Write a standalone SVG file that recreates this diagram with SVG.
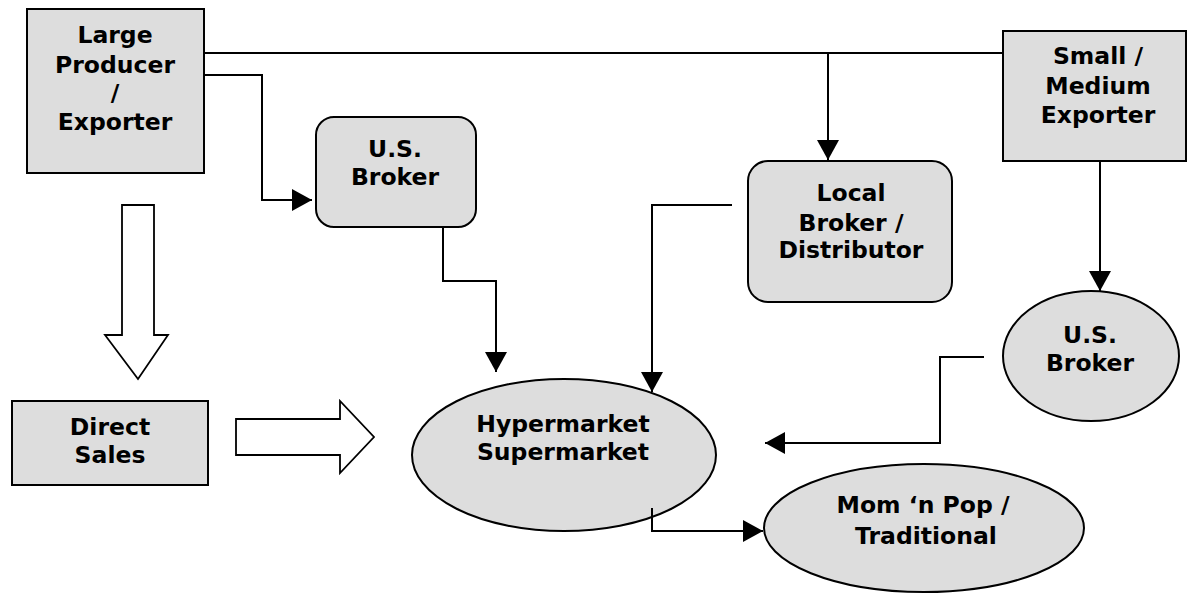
<svg xmlns="http://www.w3.org/2000/svg" width="1187" height="594" viewBox="0 0 1187 594">
<defs>
<marker id="ah" viewBox="0 0 20 22" refX="20" refY="11" markerWidth="20" markerHeight="22" orient="auto" markerUnits="userSpaceOnUse">
<path d="M0,0 L20,11 L0,22 z" fill="#000"/>
</marker>
</defs>
<style>
.node{fill:#DDDDDD;stroke:#000;stroke-width:2}
.lbl{font-family:"DejaVu Sans",Verdana,sans-serif;font-weight:bold;font-size:23.5px;fill:#000;text-anchor:middle}
.conn{fill:none;stroke:#000;stroke-width:2}
.hollow{fill:#fff;stroke:#000;stroke-width:1.8;stroke-linejoin:miter}
</style>
<rect width="1187" height="594" fill="#fff"/>
<g id="large-producer">
<rect class="node" x="27" y="9" width="177" height="164"/>
<text class="lbl" x="115" y="43">Large</text>
<text class="lbl" x="115" y="73">Producer</text>
<text class="lbl" x="115" y="101">/</text>
<text class="lbl" x="115" y="130">Exporter</text>
</g>
<g id="small-medium-exporter">
<rect class="node" x="1003" y="31" width="183" height="130"/>
<text class="lbl" x="1098" y="64">Small /</text>
<text class="lbl" x="1098" y="94">Medium</text>
<text class="lbl" x="1098" y="123">Exporter</text>
</g>
<g id="us-broker-1">
<rect class="node" x="316" y="117" width="160" height="110" rx="18" ry="18"/>
<text class="lbl" x="395" y="157">U.S.</text>
<text class="lbl" x="395" y="185">Broker</text>
</g>
<g id="local-broker">
<rect class="node" x="748" y="161" width="204" height="141" rx="20" ry="20"/>
<text class="lbl" x="851" y="201">Local</text>
<text class="lbl" x="851" y="231">Broker /</text>
<text class="lbl" x="851" y="258">Distributor</text>
</g>
<g id="us-broker-2">
<ellipse class="node" cx="1091" cy="356" rx="88" ry="65"/>
<text class="lbl" x="1090" y="343">U.S.</text>
<text class="lbl" x="1090" y="371">Broker</text>
</g>
<g id="direct-sales">
<rect class="node" x="12" y="401" width="196" height="84"/>
<text class="lbl" x="110" y="435">Direct</text>
<text class="lbl" x="110" y="463">Sales</text>
</g>
<g id="hypermarket">
<ellipse class="node" cx="564" cy="455" rx="152" ry="76"/>
<text class="lbl" x="563" y="432">Hypermarket</text>
<text class="lbl" x="563" y="460">Supermarket</text>
</g>
<g id="mom-n-pop">
<ellipse class="node" cx="924" cy="528" rx="160" ry="64"/>
<text class="lbl" x="923" y="513">Mom ‘n Pop /</text>
<text class="lbl" x="926" y="544">Traditional</text>
</g>
<g id="connectors">
<path class="conn" d="M204,53 H1003"/>
<path class="conn" d="M828,53 V160" marker-end="url(#ah)"/>
<path class="conn" d="M204,75 H262 V200 H312" marker-end="url(#ah)"/>
<path class="conn" d="M443,227 V281 H496 V372" marker-end="url(#ah)"/>
<path class="conn" d="M732,205 H652 V392" marker-end="url(#ah)"/>
<path class="conn" d="M1100,161 V291" marker-end="url(#ah)"/>
<path class="conn" d="M984,357 H940 V443 H765" marker-end="url(#ah)"/>
<path class="conn" d="M652,508 V531 H763" marker-end="url(#ah)"/>
<path class="hollow" d="M122,205 H154 V335 H168 L138,379 L105,335 H122 Z"/>
<path class="hollow" d="M236,419 H340 V401 L374,437 L340,473 V455 H236 Z"/>
</g>
</svg>
